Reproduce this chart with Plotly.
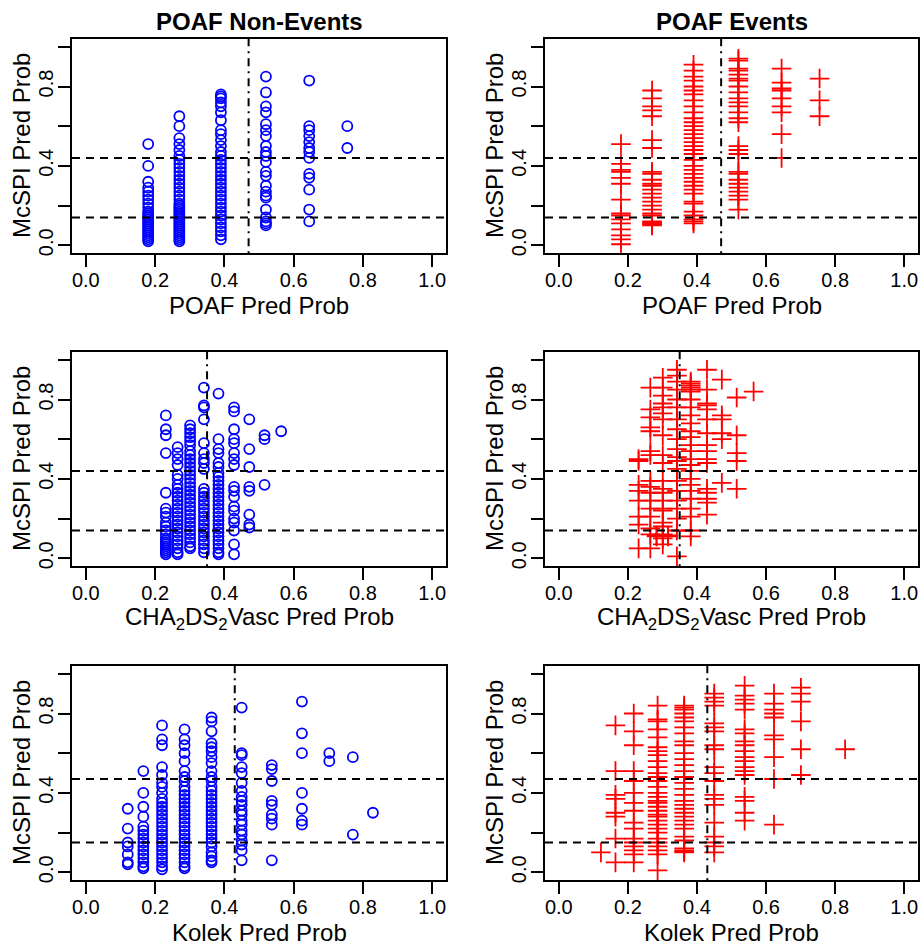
import plotly.graph_objects as go

# ---------------- data ----------------
# Threshold lines
POAF_CUT = 0.47
CHA_CUT = 0.35
KOLEK_CUT = 0.43
MCSPI_CUTS_POAF = [0.14, 0.44]
MCSPI_CUTS_CHA = [0.14, 0.44]
MCSPI_CUTS_KOLEK = [0.15, 0.47]

# Each dict: model predicted probability (x) -> list of McSPI predicted probabilities (y)
poaf_nonevents = {
    0.18: [0.51, 0.40, 0.32, 0.29, 0.27, 0.25, 0.23, 0.21, 0.19, 0.17, 0.16, 0.15, 0.14,
           0.13, 0.12, 0.11, 0.10, 0.09, 0.08, 0.07, 0.06, 0.05, 0.04, 0.03, 0.02],
    0.27: [0.65, 0.60, 0.54, 0.51, 0.48, 0.45, 0.43, 0.41, 0.39, 0.37, 0.35, 0.33, 0.31,
           0.29, 0.27, 0.25, 0.23, 0.21, 0.20, 0.19, 0.18, 0.17, 0.16, 0.15, 0.14, 0.13,
           0.12, 0.11, 0.10, 0.09, 0.08, 0.07, 0.06, 0.05, 0.04, 0.03, 0.02],
    0.39: [0.76, 0.75, 0.74, 0.72, 0.70, 0.67, 0.63, 0.58, 0.56, 0.53, 0.50, 0.47, 0.45,
           0.43, 0.41, 0.39, 0.37, 0.35, 0.33, 0.31, 0.29, 0.27, 0.25, 0.23, 0.21, 0.19,
           0.17, 0.15, 0.13, 0.11, 0.09, 0.07, 0.05, 0.03],
    0.52: [0.85, 0.77, 0.70, 0.67, 0.61, 0.58, 0.55, 0.50, 0.47, 0.45, 0.42, 0.37, 0.35,
           0.30, 0.27, 0.25, 0.24, 0.18, 0.14, 0.12, 0.11, 0.10],
    0.645: [0.83, 0.60, 0.58, 0.55, 0.52, 0.49, 0.47, 0.44, 0.36, 0.34, 0.28, 0.18, 0.12],
    0.755: [0.60, 0.49],
}
poaf_events = {
    0.18: [0.51, 0.41, 0.38, 0.37, 0.34, 0.31, 0.23, 0.16, 0.15, 0.13, 0.11, 0.08, 0.05,
           0.03, 0.005],
    0.27: [0.78, 0.74, 0.70, 0.68, 0.65, 0.53, 0.49, 0.37, 0.36, 0.33, 0.31, 0.30, 0.28,
           0.26, 0.24, 0.22, 0.20, 0.18, 0.16, 0.15, 0.12, 0.115, 0.11, 0.105, 0.10],
    0.39: [0.91, 0.88, 0.85, 0.83, 0.80, 0.78, 0.76, 0.73, 0.70, 0.67, 0.64, 0.62, 0.60,
           0.58, 0.56, 0.54, 0.52, 0.50, 0.48, 0.46, 0.43, 0.40, 0.38, 0.36, 0.34, 0.32,
           0.30, 0.28, 0.26, 0.22, 0.21, 0.17, 0.15, 0.13, 0.12, 0.11],
    0.52: [0.94, 0.93, 0.89, 0.88, 0.86, 0.84, 0.83, 0.80, 0.77, 0.74, 0.72, 0.70, 0.67,
           0.64, 0.62, 0.50, 0.48, 0.46, 0.37, 0.36, 0.33, 0.31, 0.29, 0.27, 0.25, 0.23,
           0.18],
    0.645: [0.89, 0.82, 0.79, 0.78, 0.74, 0.70, 0.67, 0.56, 0.44],
    0.755: [0.84, 0.73, 0.65],
}
cha_nonevents = {
    0.231: [0.72, 0.65, 0.62, 0.53, 0.33, 0.25, 0.23, 0.21, 0.18, 0.16, 0.14, 0.12, 0.10,
            0.09, 0.08, 0.07, 0.06, 0.05, 0.04, 0.03, 0.02],
    0.265: [0.56, 0.53, 0.50, 0.47, 0.42, 0.40, 0.37, 0.35, 0.33, 0.31, 0.29, 0.27, 0.25,
            0.23, 0.21, 0.19, 0.17, 0.15, 0.13, 0.11, 0.09, 0.07, 0.05, 0.03, 0.02],
    0.301: [0.67, 0.65, 0.63, 0.61, 0.59, 0.57, 0.54, 0.52, 0.50, 0.48, 0.46, 0.44, 0.42,
            0.40, 0.38, 0.36, 0.34, 0.32, 0.30, 0.28, 0.26, 0.24, 0.22, 0.20, 0.18, 0.16,
            0.14, 0.12, 0.10, 0.08, 0.06, 0.05],
    0.341: [0.86, 0.77, 0.76, 0.70, 0.58, 0.53, 0.50, 0.48, 0.45, 0.35, 0.33, 0.31, 0.29,
            0.27, 0.25, 0.23, 0.21, 0.19, 0.17, 0.15, 0.13, 0.11, 0.09, 0.07, 0.05, 0.03],
    0.383: [0.83, 0.60, 0.55, 0.53, 0.48, 0.46, 0.43, 0.41, 0.39, 0.37, 0.35, 0.33, 0.31,
            0.29, 0.27, 0.25, 0.23, 0.21, 0.19, 0.17, 0.15, 0.13, 0.11, 0.09, 0.07, 0.05,
            0.03, 0.02],
    0.428: [0.76, 0.74, 0.65, 0.60, 0.58, 0.53, 0.50, 0.47, 0.36, 0.34, 0.31, 0.26, 0.24,
            0.20, 0.18, 0.14, 0.07, 0.02],
    0.472: [0.70, 0.55, 0.46, 0.36, 0.34, 0.22, 0.17, 0.155],
    0.516: [0.62, 0.60, 0.37],
    0.564: [0.64],
}
cha_events = {
    0.231: [0.50, 0.49, 0.37, 0.34, 0.29, 0.21, 0.17, 0.05],
    0.265: [0.86, 0.75, 0.71, 0.66, 0.64, 0.54, 0.52, 0.39, 0.36, 0.33, 0.29, 0.25, 0.21,
            0.15, 0.12, 0.05],
    0.283: [0.115, 0.11],
    0.301: [0.91, 0.86, 0.82, 0.78, 0.76, 0.73, 0.70, 0.62, 0.52, 0.48, 0.39, 0.35, 0.33,
            0.29, 0.25, 0.24, 0.18, 0.16, 0.12, 0.10, 0.07],
    0.316: [0.115, 0.11],
    0.342: [0.95, 0.92, 0.89, 0.85, 0.80, 0.76, 0.70, 0.65, 0.60, 0.55, 0.51, 0.49, 0.45,
            0.39, 0.34, 0.29, 0.25, 0.20, 0.14, 0.01],
    0.382: [0.89, 0.88, 0.87, 0.86, 0.85, 0.84, 0.80, 0.76, 0.72, 0.68, 0.64, 0.61, 0.57,
            0.54, 0.50, 0.47, 0.44, 0.40, 0.37, 0.34, 0.30, 0.25, 0.21, 0.14, 0.11],
    0.429: [0.95, 0.85, 0.78, 0.77, 0.75, 0.70, 0.63, 0.57, 0.54, 0.50, 0.48, 0.35, 0.33,
            0.30, 0.28, 0.22],
    0.472: [0.90, 0.72, 0.70, 0.63, 0.60, 0.38],
    0.515: [0.81, 0.62, 0.53, 0.49, 0.35],
    0.564: [0.84],
}
kolek_nonevents = {
    0.121: [0.32, 0.22, 0.15, 0.13, 0.09, 0.05, 0.04],
    0.166: [0.51, 0.40, 0.33, 0.28, 0.23, 0.21, 0.19, 0.17, 0.15, 0.13, 0.11, 0.09, 0.07,
            0.05, 0.03, 0.02],
    0.22: [0.74, 0.67, 0.64, 0.53, 0.49, 0.45, 0.43, 0.40, 0.37, 0.35, 0.33, 0.31, 0.29,
           0.27, 0.25, 0.23, 0.21, 0.19, 0.17, 0.15, 0.13, 0.11, 0.09, 0.07, 0.05, 0.03,
           0.015],
    0.285: [0.72, 0.67, 0.64, 0.60, 0.56, 0.51, 0.48, 0.46, 0.43, 0.41, 0.39, 0.37, 0.35,
            0.33, 0.31, 0.29, 0.27, 0.25, 0.23, 0.21, 0.19, 0.17, 0.15, 0.13, 0.11, 0.09,
            0.07, 0.05, 0.03, 0.02],
    0.363: [0.78, 0.76, 0.71, 0.65, 0.63, 0.61, 0.58, 0.55, 0.51, 0.48, 0.46, 0.43, 0.41,
            0.39, 0.37, 0.35, 0.33, 0.31, 0.29, 0.27, 0.25, 0.23, 0.21, 0.19, 0.17, 0.15,
            0.13, 0.10, 0.08, 0.06, 0.05],
    0.45: [0.83, 0.60, 0.59, 0.53, 0.50, 0.45, 0.41, 0.38, 0.36, 0.34, 0.31, 0.29, 0.26,
           0.24, 0.21, 0.19, 0.16, 0.14, 0.11, 0.06],
    0.537: [0.54, 0.52, 0.46, 0.36, 0.34, 0.29, 0.27, 0.24, 0.06],
    0.624: [0.86, 0.70, 0.60, 0.40, 0.32, 0.26, 0.24],
    0.703: [0.60, 0.56],
    0.771: [0.58, 0.19],
    0.829: [0.30],
}
kolek_events = {
    0.122: [0.10],
    0.164: [0.74, 0.51, 0.39, 0.37, 0.30, 0.28, 0.17, 0.05],
    0.217: [0.80, 0.71, 0.64, 0.51, 0.46, 0.40, 0.35, 0.31, 0.25, 0.22, 0.17, 0.15, 0.13,
            0.11, 0.09, 0.05],
    0.286: [0.84, 0.77, 0.76, 0.72, 0.68, 0.63, 0.61, 0.59, 0.56, 0.53, 0.50, 0.48, 0.46,
            0.43, 0.40, 0.38, 0.36, 0.35, 0.33, 0.31, 0.29, 0.28, 0.26, 0.24, 0.22, 0.20,
            0.17, 0.15, 0.13, 0.11, 0.09, 0.01],
    0.363: [0.84, 0.83, 0.82, 0.80, 0.78, 0.76, 0.73, 0.70, 0.66, 0.64, 0.60, 0.57, 0.54,
            0.51, 0.48, 0.45, 0.42, 0.39, 0.36, 0.34, 0.32, 0.30, 0.28, 0.26, 0.24, 0.22,
            0.18, 0.16, 0.12, 0.11, 0.105, 0.10],
    0.45: [0.90, 0.88, 0.86, 0.84, 0.75, 0.73, 0.71, 0.64, 0.62, 0.53, 0.50, 0.46, 0.39,
           0.37, 0.34, 0.25, 0.18, 0.15, 0.13, 0.10],
    0.538: [0.94, 0.89, 0.87, 0.85, 0.82, 0.72, 0.70, 0.66, 0.64, 0.61, 0.58, 0.56, 0.53,
            0.51, 0.49, 0.38, 0.36, 0.30, 0.26],
    0.623: [0.90, 0.85, 0.82, 0.80, 0.78, 0.69, 0.67, 0.58, 0.47, 0.24],
    0.701: [0.93, 0.90, 0.86, 0.76, 0.62, 0.49],
    0.829: [0.62],
}

col_titles = ["POAF Non-Events", "POAF Events"]
x_titles = ["POAF Pred Prob", "CHA<sub>2</sub>DS<sub>2</sub>Vasc Pred Prob", "Kolek Pred Prob"]
y_title = "McSPI Pred Prob"
x_tickvals = [0.0, 0.2, 0.4, 0.6, 0.8, 1.0]
x_ticktext = ["0.0", "0.2", "0.4", "0.6", "0.8", "1.0"]
y_tickvals = [0.0, 0.2, 0.4, 0.6, 0.8, 1.0]
y_ticktext = ["0.0", " ", "0.4", " ", "0.8", " "]

# ---------------- layout geometry (pixels) ----------------
W, H = 920, 946
COLS_PX = [(72, 446), (545, 918)]
ROWS_PX = [(39, 254), (353, 568), (668, 883)]
FONT = "Liberation Sans, Arial, Helvetica, sans-serif"

panels = [
    (poaf_nonevents, "nonevent", 0, 0, POAF_CUT, MCSPI_CUTS_POAF),
    (poaf_events, "event", 0, 1, POAF_CUT, MCSPI_CUTS_POAF),
    (cha_nonevents, "nonevent", 1, 0, CHA_CUT, MCSPI_CUTS_CHA),
    (cha_events, "event", 1, 1, CHA_CUT, MCSPI_CUTS_CHA),
    (kolek_nonevents, "nonevent", 2, 0, KOLEK_CUT, MCSPI_CUTS_KOLEK),
    (kolek_events, "event", 2, 1, KOLEK_CUT, MCSPI_CUTS_KOLEK),
]

fig = go.Figure()
layout = dict(
    width=W, height=H, margin=dict(l=0, r=0, t=0, b=0),
    paper_bgcolor="white", plot_bgcolor="white", showlegend=False,
    font=dict(family=FONT, color="black"),
)
shapes = []
annotations = []

for i, (data, kind, r, c, vcut, hcuts) in enumerate(panels):
    n = i + 1
    xs, ys = [], []
    for xv, yl in data.items():
        for yv in yl:
            xs.append(xv)
            ys.append(yv)
    if kind == "nonevent":
        marker = dict(symbol="circle-open", size=10, color="#0000FF",
                      line=dict(width=1.8, color="#0000FF"))
    else:
        marker = dict(symbol="cross-thin-open", size=14, color="#FF0000",
                      line=dict(width=1.8, color="#FF0000"))
    fig.add_trace(go.Scatter(x=xs, y=ys, mode="markers", marker=marker,
                             xaxis=f"x{n}", yaxis=f"y{n}", hoverinfo="skip"))
    x0, x1 = COLS_PX[c]
    y0, y1 = ROWS_PX[r]
    axcommon = dict(showgrid=False, zeroline=False, showline=True, mirror=True,
                    linecolor="black", linewidth=2, ticks="outside", ticklen=12,
                    tickwidth=2, tickcolor="black",
                    tickfont=dict(size=20, family=FONT, color="black"),
                    range=[-0.04, 1.04], fixedrange=True)
    layout[f"xaxis{n}"] = dict(axcommon, domain=[x0 / W, x1 / W], anchor=f"y{n}",
                               tickmode="array", tickvals=x_tickvals, ticktext=x_ticktext,
                               ticklabelstandoff=-4)
    layout[f"yaxis{n}"] = dict(axcommon, domain=[1 - y1 / H, 1 - y0 / H], anchor=f"x{n}",
                               tickmode="array", tickvals=y_tickvals, ticktext=y_ticktext,
                               tickangle=-90, ticklabelstandoff=-3)
    xref = "x" if n == 1 else f"x{n}"
    yref = "y" if n == 1 else f"y{n}"
    for hc in hcuts:
        shapes.append(dict(type="line", xref=f"{xref} domain", yref=yref,
                           x0=0, x1=1, y0=hc, y1=hc,
                           line=dict(color="black", width=2, dash="8px,6px")))
    shapes.append(dict(type="line", xref=xref, yref=f"{yref} domain",
                       x0=vcut, x1=vcut, y0=0, y1=1,
                       line=dict(color="black", width=2, dash="2px,5px,8px,5px")))
    # axis titles
    annotations.append(dict(text=x_titles[r], xref="paper", yref="paper",
                            x=(x0 + x1) / 2 / W, y=1 - (y1 + 52) / H,
                            xanchor="center", yanchor="middle", showarrow=False,
                            font=dict(size=24, family=FONT, color="black")))
    annotations.append(dict(text=y_title, xref="paper", yref="paper",
                            x=(x0 - 51) / W, y=1 - (y0 + y1) / 2 / H, textangle=-90,
                            xanchor="center", yanchor="middle", showarrow=False,
                            font=dict(size=24, family=FONT, color="black")))

for c, t in enumerate(col_titles):
    x0, x1 = COLS_PX[c]
    annotations.append(dict(text=f"<b>{t}</b>", xref="paper", yref="paper",
                            x=(x0 + x1) / 2 / W, y=1 - 22 / H,
                            xanchor="center", yanchor="middle", showarrow=False,
                            font=dict(size=24, family=FONT, color="black")))

layout["shapes"] = shapes
layout["annotations"] = annotations
fig.update_layout(**layout)
fig.write_html(
    "out.html",
    config={"displayModeBar": False, "staticPlot": True},
    post_script="document.body.style.margin='0px';document.body.style.overflow='hidden';",
)
